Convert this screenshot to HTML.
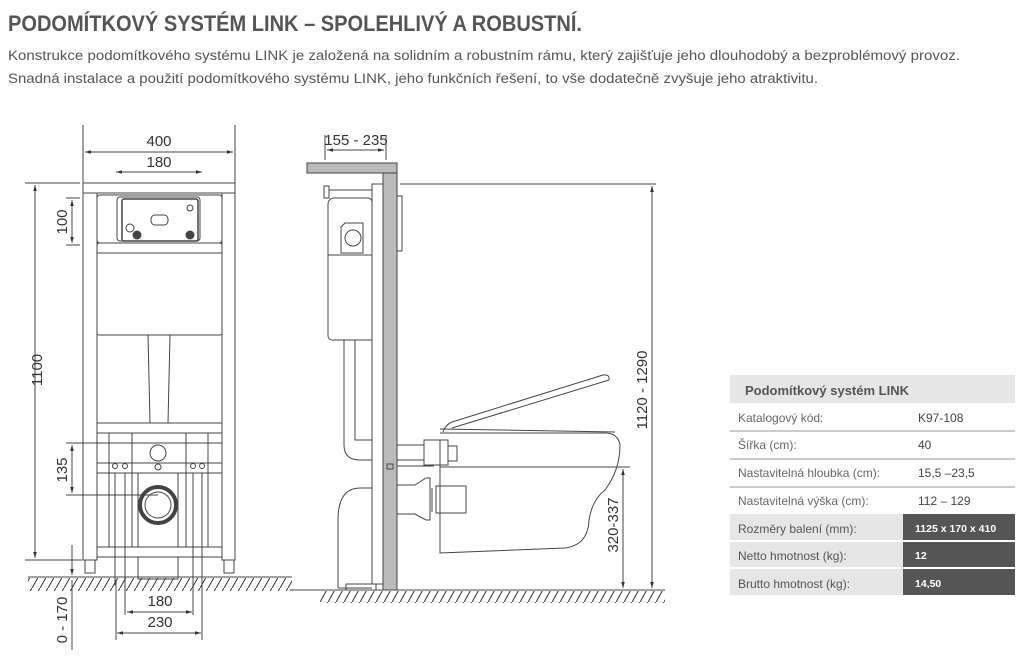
<!DOCTYPE html>
<html><head><meta charset="utf-8"><style>
html,body{margin:0;padding:0;background:#fff;}
svg{display:block;}
text{font-family:"Liberation Sans",sans-serif;}
</style></head><body>
<svg width="1024" height="659" viewBox="0 0 1024 659" xmlns="http://www.w3.org/2000/svg">
<defs>
<pattern id="h" width="8" height="14" patternUnits="userSpaceOnUse">
<line x1="8" y1="0" x2="0" y2="14" stroke="#333" stroke-width="1"/>
</pattern>
<marker id="a" viewBox="0 0 10 10" refX="10" refY="5" markerWidth="6" markerHeight="6" orient="auto-start-reverse"><path d="M0,2L10,5L0,8z" fill="#333"/></marker>
</defs>
<text x="8" y="31" font-size="22" font-weight="bold" fill="#555" textLength="574" lengthAdjust="spacingAndGlyphs">PODOMÍTKOVÝ SYSTÉM LINK – SPOLEHLIVÝ A ROBUSTNÍ.</text>
<text x="8" y="60" font-size="13.5" fill="#555" textLength="952" lengthAdjust="spacingAndGlyphs">Konstrukce podomítkového systému LINK je založená na solidním a robustním rámu, který zajišťuje jeho dlouhodobý a bezproblémový provoz.</text>
<text x="8" y="83" font-size="13.5" fill="#555" textLength="810" lengthAdjust="spacingAndGlyphs">Snadná instalace a použití podomítkového systému LINK, jeho funkčních řešení, to vše dodatečně zvyšuje jeho atraktivitu.</text>

<g fill="none" stroke="#444" stroke-width="1">
<line x1="83" y1="125" x2="83" y2="183"/><line x1="235" y1="125" x2="235" y2="183"/>
<line x1="85" y1="152" x2="233" y2="152" marker-start="url(#a)" marker-end="url(#a)"/>
<line x1="116" y1="172" x2="202" y2="172" marker-start="url(#a)" marker-end="url(#a)"/>
<rect x="83" y="183" width="152" height="10"/>
<rect x="83" y="193" width="14" height="367"/><rect x="222" y="193" width="13" height="367"/>
<rect x="85" y="560" width="10" height="13"/><rect x="224" y="560" width="10" height="13"/>
<rect x="97" y="195" width="125" height="48" rx="3"/>
<rect x="117" y="197" width="83" height="44" rx="3"/>
<rect x="122" y="199" width="76" height="42" rx="2" stroke-width="1.5"/>
<circle cx="190" cy="208" r="3"/><circle cx="130" cy="228" r="4"/><circle cx="137" cy="235" r="4" fill="#444"/><circle cx="190" cy="235" r="4" fill="#444"/>
<rect x="151" y="215" width="17" height="10" rx="4"/>
<rect x="97" y="243" width="125" height="92" rx="2"/>
<line x1="97" y1="253" x2="222" y2="253"/>
<path d="M148 335 L150 423 M170 335 L168 423"/>
<rect x="97" y="423" width="125" height="10"/>
<rect x="97" y="443" width="125" height="104"/>
<path d="M109 433V547 M132 433V547 M186 433V547 M208 433V547 M97 463H222 M97 473H222 M138 473V547 M178 473V547"/>
<circle cx="158" cy="453" r="8"/><circle cx="158" cy="467" r="3"/>
<circle cx="158" cy="505" r="18" stroke-width="4"/><circle cx="158" cy="505" r="13"/>
<circle cx="115" cy="466" r="2.5"/><circle cx="125" cy="466" r="2.5"/><circle cx="193" cy="466" r="2.5"/><circle cx="202" cy="466" r="2.5"/>
<line x1="115" y1="473" x2="115" y2="585"/><line x1="125" y1="473" x2="125" y2="615"/><line x1="193" y1="473" x2="193" y2="615"/><line x1="202" y1="473" x2="202" y2="640"/>
<rect x="97" y="547" width="125" height="10"/>
<rect x="138" y="557" width="40" height="22"/>
<line x1="116" y1="580" x2="116" y2="640"/>
<line x1="25" y1="183" x2="80" y2="183"/><line x1="25" y1="560" x2="82" y2="560"/>
<line x1="35" y1="185" x2="35" y2="558" marker-start="url(#a)" marker-end="url(#a)"/>
<line x1="66" y1="198" x2="80" y2="198"/><line x1="66" y1="245" x2="80" y2="245"/>
<line x1="72" y1="200" x2="72" y2="243" marker-start="url(#a)" marker-end="url(#a)"/>
<line x1="66" y1="443" x2="158" y2="443"/><line x1="66" y1="495" x2="158" y2="495"/>
<line x1="72" y1="445" x2="72" y2="493" marker-start="url(#a)" marker-end="url(#a)"/>
<line x1="72" y1="545" x2="72" y2="575" marker-end="url(#a)"/>
<line x1="72" y1="580" x2="72" y2="650"/>
<line x1="127" y1="612" x2="192" y2="612" marker-start="url(#a)" marker-end="url(#a)"/>
<line x1="117" y1="633" x2="201" y2="633" marker-start="url(#a)" marker-end="url(#a)"/>
<line x1="28" y1="577" x2="292" y2="577"/>
</g>
<rect x="28" y="578" width="264" height="13" fill="url(#h)"/>
<g font-size="15" fill="#333" text-anchor="middle">
<text x="159" y="146">400</text><text x="159" y="167">180</text>
<text x="160" y="606">180</text><text x="160" y="627">230</text>
<text transform="translate(42,370) rotate(-90)">1100</text>
<text transform="translate(67,222) rotate(-90)">100</text>
<text transform="translate(67,470) rotate(-90)">135</text>
<text transform="translate(67,620) rotate(-90)">0 - 170</text>
</g>

<g fill="none" stroke="#444" stroke-width="1">
<line x1="325" y1="135" x2="325" y2="160"/><line x1="386" y1="135" x2="386" y2="160"/>
<line x1="327" y1="150" x2="384" y2="150" marker-start="url(#a)" marker-end="url(#a)"/>
<rect x="307" y="163" width="90" height="10" fill="#bbb"/>
<rect x="383" y="173" width="14" height="417" fill="#bbb"/>
<rect x="372" y="184" width="11" height="400"/>
<rect x="324" y="186" width="5" height="12"/><line x1="329" y1="190" x2="372" y2="190"/>
<path d="M333 198 H368 a4 4 0 0 1 4 4 V340 H332 a4 4 0 0 1 -4 -4 V204 a6 6 0 0 1 5 -6z"/>
<line x1="328" y1="255" x2="372" y2="255"/>
<path d="M345 223 h18 v30 h-22 v-26z"/><circle cx="353" cy="238" r="8"/>
<rect x="397" y="196" width="5" height="55"/>
<path d="M344 340 V445 Q344 460 360 460 H372 M355 340 V440 H372"/>
<path d="M372 488 H360 Q338 488 338 520 V588 M338 588 H372"/>
<rect x="346" y="584" width="30" height="6"/>
<path d="M397 445 H424 V460 H397 M424 440 h24 v25 h-24z M448 446 h9 v15 h-9"/>
<line x1="397" y1="466" x2="434" y2="466"/>
<rect x="387" y="464" width="6" height="5"/>
<path d="M397 485 H415 L426 478 H430 V520 H426 L415 514 H397"/>
<rect x="436" y="486" width="30" height="27"/><line x1="432" y1="488" x2="432" y2="512"/>
<path d="M440 440 V553 L565 548 Q588 545 589 520 Q592 500 605 490 Q620 470 620 445 Q618 433 605 433 H440"/>
<path d="M443 432 Q445 425 452 422 L603 375 Q610 374 609 380 L452 428"/>
<line x1="440" y1="429" x2="615" y2="432"/>
<line x1="400" y1="184" x2="656" y2="184"/>
<line x1="440" y1="467" x2="630" y2="467"/>
<line x1="652" y1="186" x2="652" y2="588" marker-start="url(#a)" marker-end="url(#a)"/>
<line x1="623" y1="469" x2="623" y2="588" marker-start="url(#a)" marker-end="url(#a)"/>
<line x1="290" y1="590" x2="665" y2="590"/>
</g>
<rect x="320" y="591" width="345" height="12" fill="url(#h)"/>
<g font-size="15" fill="#333" text-anchor="middle">
<text x="356" y="145">155 - 235</text>
<text transform="translate(647,390) rotate(-90)">1120 - 1290</text>
<text transform="translate(618,525) rotate(-90)">320-337</text>
</g>

<rect x="730" y="375" width="285" height="28" fill="#e6e6e6"/>
<text x="745" y="395" font-size="13" font-weight="bold" fill="#555">Podomítkový systém LINK</text>
<g font-size="12" fill="#666">
<text x="738" y="422">Katalogový kód:</text><text x="918" y="422" fill="#444">K97-108</text>
<text x="738" y="449">Šířka (cm):</text><text x="918" y="449" fill="#444">40</text>
<text x="738" y="477">Nastavitelná hloubka (cm):</text><text x="918" y="477" fill="#444">15,5 –23,5</text>
<text x="738" y="505">Nastavitelná výška (cm):</text><text x="918" y="505" fill="#444">112 – 129</text>
</g>
<g stroke="#999" stroke-width="1"><line x1="730" y1="431" x2="1015" y2="431"/><line x1="730" y1="459" x2="1015" y2="459"/><line x1="730" y1="487" x2="1015" y2="487"/></g>
<rect x="730" y="514" width="285" height="26" fill="#e6e6e6"/><rect x="903" y="514" width="112" height="26" fill="#555"/>
<rect x="730" y="542" width="285" height="25" fill="#e6e6e6"/><rect x="903" y="542" width="112" height="25" fill="#555"/>
<rect x="730" y="569" width="285" height="26" fill="#e6e6e6"/><rect x="903" y="569" width="112" height="26" fill="#555"/>
<g font-size="12" fill="#555">
<text x="738" y="533">Rozměry balení (mm):</text>
<text x="738" y="560">Netto hmotnost (kg):</text>
<text x="738" y="588">Brutto hmotnost (kg):</text>
</g>
<g font-size="10.5" fill="#fff" font-weight="bold">
<text x="915" y="532">1125 x 170 x 410</text>
<text x="915" y="559">12</text>
<text x="915" y="587">14,50</text>
</g>
</svg>
</body></html>
